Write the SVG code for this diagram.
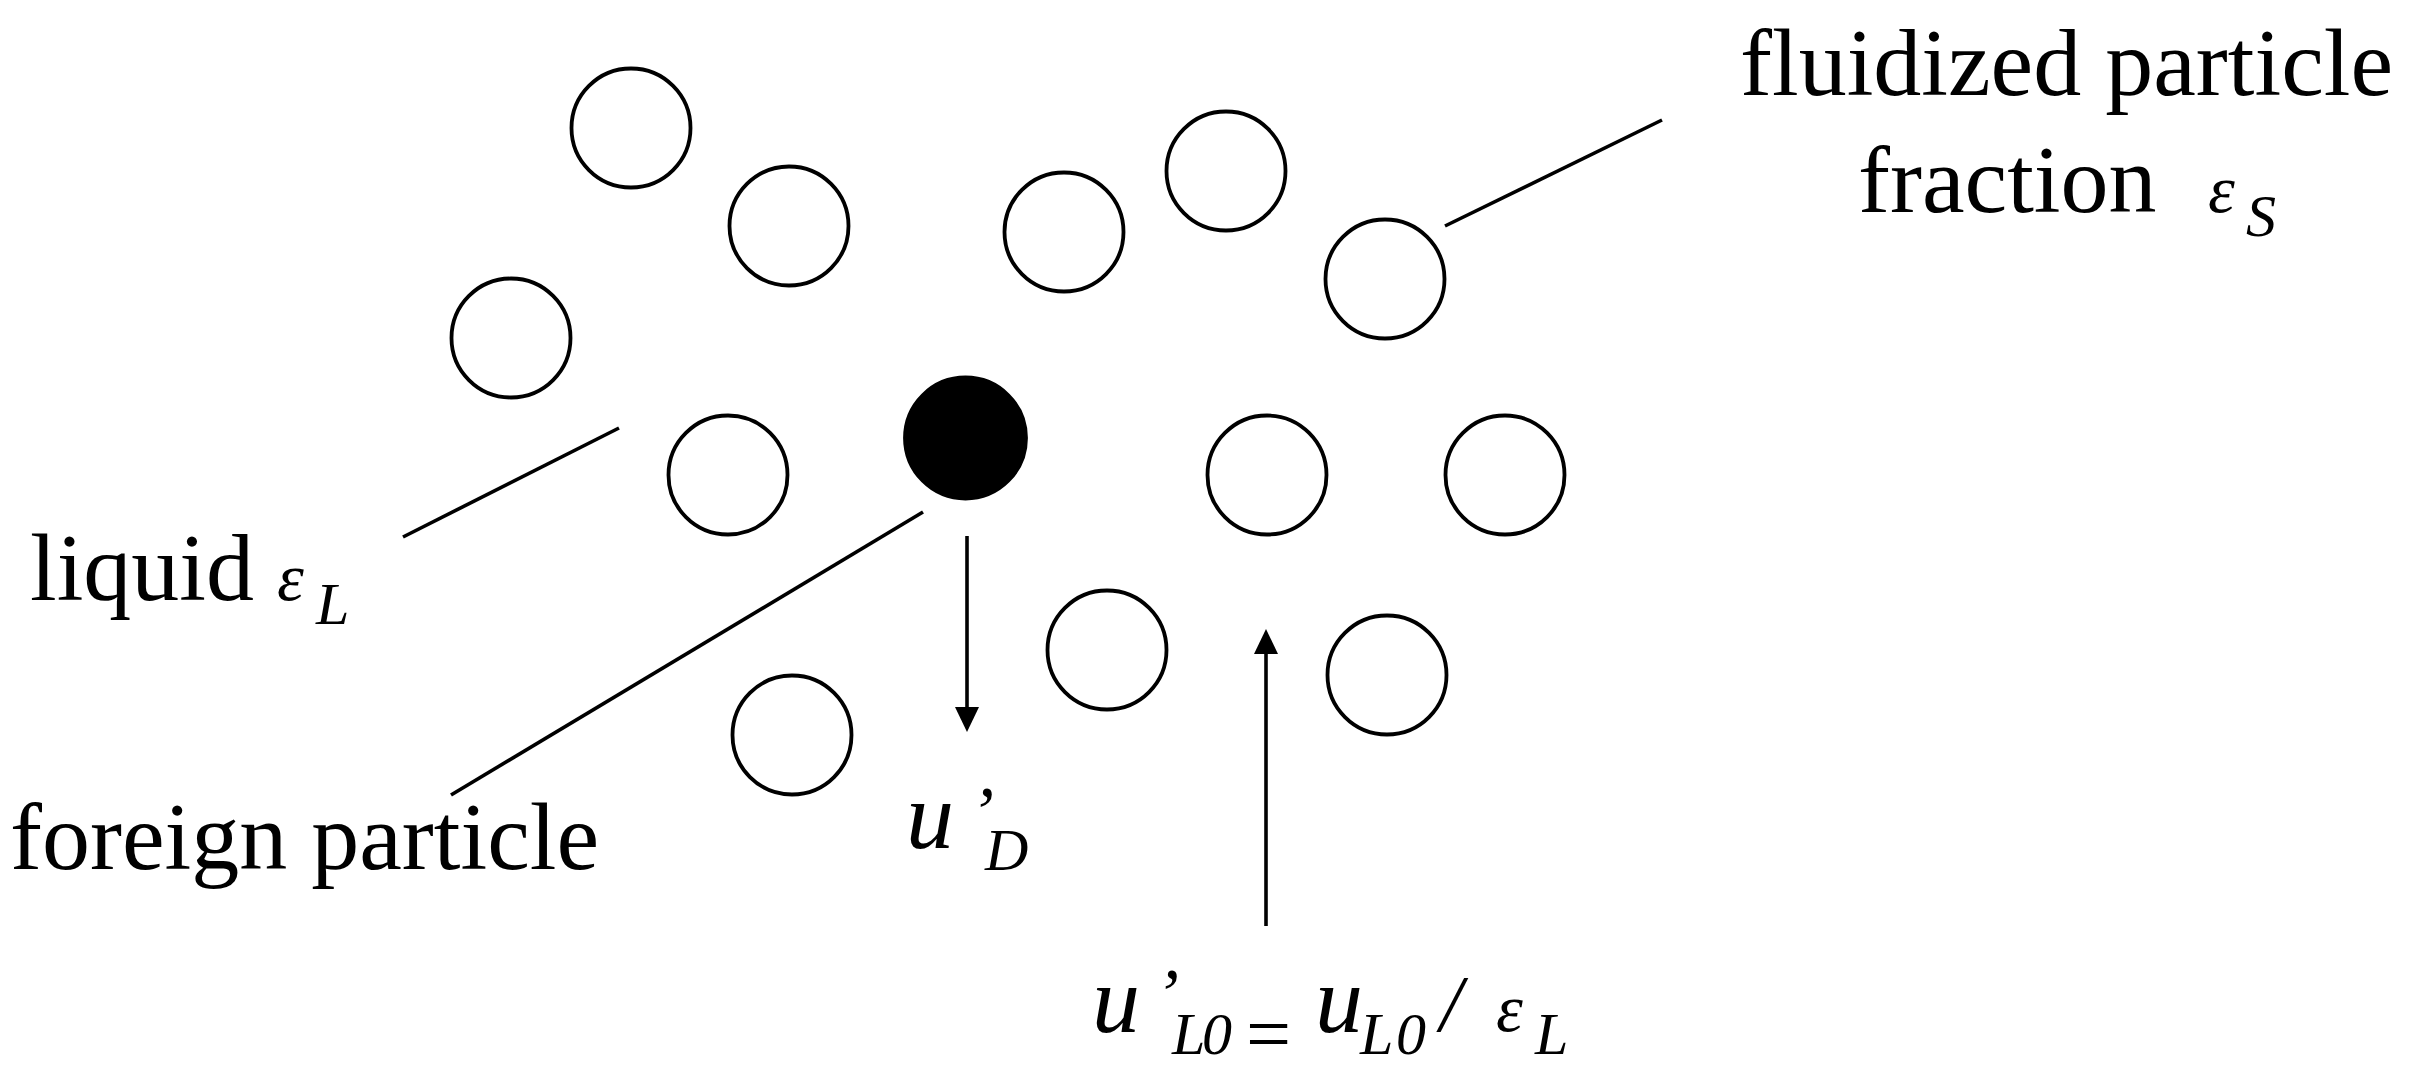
<svg xmlns="http://www.w3.org/2000/svg" width="2409" height="1091" viewBox="0 0 2409 1091">
  <style>
    .p { fill: #ffffff; stroke: #000000; stroke-width: 3.8; }
    .f { fill: #000000; stroke: #000000; stroke-width: 3.8; }
    .c { stroke: #000000; stroke-width: 3.6; fill: none; stroke-linecap: butt; }
    .t { font-family: "Liberation Serif", "Times New Roman", serif; font-size: 96px; fill: #000000; }
    .m { font-family: "Liberation Serif", "Times New Roman", serif; font-style: italic; fill: #000000; }
    .up { font-style: normal; }
  </style>
  <defs>
    <marker id="arrow" markerUnits="userSpaceOnUse" markerWidth="26" markerHeight="24" refX="14" refY="12" orient="auto">
      <path d="M0,0 L25,12 L0,24 z" fill="#000000"/>
    </marker>
  </defs>
  <rect x="0" y="0" width="2409" height="1091" fill="#ffffff"/>

  <g id="particles">
    <g id="p1"><circle class="p" cx="631" cy="128" r="59.5"/></g>
    <g id="p2"><circle class="p" cx="789" cy="226" r="59.5"/></g>
    <g id="p3"><circle class="p" cx="511" cy="338" r="59.5"/></g>
    <g id="p4"><circle class="p" cx="728" cy="475" r="59.5"/></g>
    <g id="foreign"><circle class="f" cx="965.5" cy="438" r="60.5"/></g>
    <g id="p5"><circle class="p" cx="1064" cy="232" r="59.5"/></g>
    <g id="p6"><circle class="p" cx="1226" cy="171" r="59.5"/></g>
    <g id="p7"><circle class="p" cx="1385" cy="279" r="59.5"/></g>
    <g id="p8"><circle class="p" cx="1267" cy="475" r="59.5"/></g>
    <g id="p9"><circle class="p" cx="1505" cy="475" r="59.5"/></g>
    <g id="p10"><circle class="p" cx="1107" cy="650" r="59.5"/></g>
    <g id="p11"><circle class="p" cx="1387" cy="675" r="59.5"/></g>
    <g id="p12"><circle class="p" cx="792" cy="735" r="59.5"/></g>
  </g>

  <g id="connectors">
    <line class="c" x1="619" y1="428" x2="403" y2="537"/>
    <line class="c" x1="923" y1="512" x2="451" y2="795"/>
    <line class="c" x1="1445" y1="226" x2="1662" y2="120"/>
    <line class="c" x1="967" y1="536" x2="967" y2="721" marker-end="url(#arrow)"/>
    <line class="c" x1="1266" y1="926" x2="1266" y2="640" marker-end="url(#arrow)"/>
  </g>

  <g id="labels">
    <g id="label-fluidized">
      <text class="t" x="1740" y="95">fluidized particle</text>
      <text class="t" x="1858" y="212">fraction<tspan class="m" x="2208" y="212" font-size="68">ε</tspan><tspan class="m" x="2246" y="236" font-size="60">S</tspan></text>
    </g>
    <g id="label-liquid">
      <text class="t" x="30" y="600">liquid<tspan class="m" x="277" y="600" font-size="68">ε</tspan><tspan class="m" x="316" y="624" font-size="60">L</tspan></text>
    </g>
    <g id="label-foreign">
      <text class="t" x="10" y="869">foreign particle</text>
    </g>
    <g id="label-uD">
      <text class="m" x="906" y="848" font-size="96">u<tspan x="970" y="836" font-size="72">’</tspan><tspan x="985" y="870" font-size="60">D</tspan></text>
    </g>
    <g id="label-uL0">
      <text class="m" x="1092" y="1032" font-size="96">u<tspan x="1155" y="1018" font-size="72">’</tspan><tspan x="1172" y="1054" font-size="60">L</tspan><tspan x="1202" y="1054" font-size="60">0</tspan><tspan class="up" x="1246" y="1061" font-size="80">=</tspan><tspan x="1315" y="1032" font-size="96">u</tspan><tspan x="1360" y="1054" font-size="60">L</tspan><tspan x="1396" y="1054" font-size="60">0</tspan><tspan x="1440" y="1031" font-size="80">/</tspan><tspan x="1496" y="1031" font-size="68">ε</tspan><tspan x="1535" y="1054" font-size="60">L</tspan></text>
    </g>
  </g>
</svg>
